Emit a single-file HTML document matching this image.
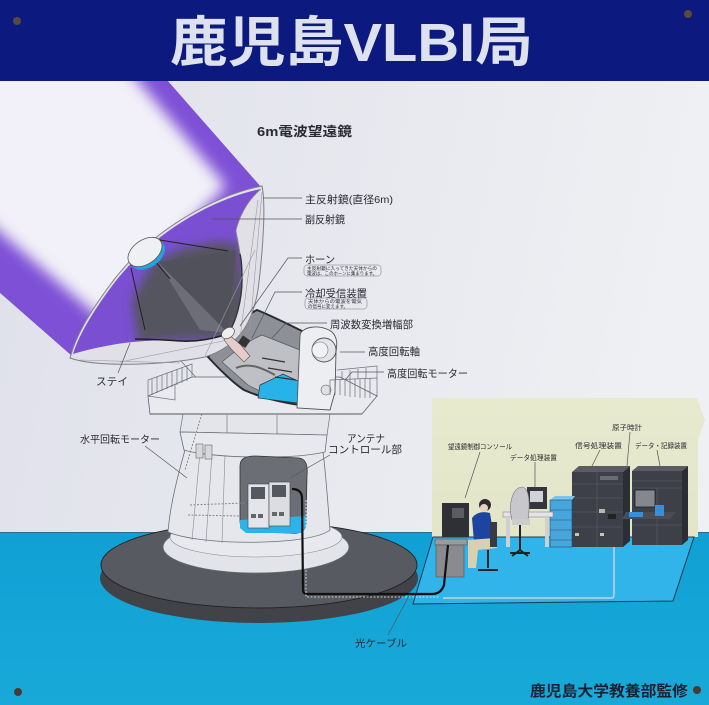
<!DOCTYPE html>
<html><head><meta charset="utf-8">
<style>
html,body{margin:0;padding:0;width:709px;height:705px;overflow:hidden;background:#e8e9f0}
svg{display:block}
text{font-family:"Liberation Sans","Noto Sans CJK JP",sans-serif;fill:#2a2a30}
</style></head><body>
<svg width="709" height="705" viewBox="0 0 709 705" xmlns="http://www.w3.org/2000/svg">
<defs>
 <linearGradient id="bg" x1="0" y1="0" x2="1" y2="0.2">
  <stop offset="0" stop-color="#dfe0ea"/><stop offset="1" stop-color="#eef0f3"/>
 </linearGradient>
 <linearGradient id="gnd" x1="0" y1="0" x2="0" y2="1">
  <stop offset="0" stop-color="#10a0d3"/><stop offset="1" stop-color="#19a9d9"/>
 </linearGradient>
 <filter id="blur" x="-30%" y="-30%" width="160%" height="160%"><feGaussianBlur stdDeviation="7"/></filter>
 <filter id="blur2" x="-30%" y="-30%" width="160%" height="160%"><feGaussianBlur stdDeviation="5"/></filter>
 <clipPath id="beamclip"><polygon points="168,81 262,188 73,357 0,293 0,81"/></clipPath>
 <clipPath id="dishclip"><path d="M261,189 C215,198 152,232 112,286 C92,313 79,335 73,354 C100,346 140,338 180,341 C200,342 215,338 228,334 C236,322 242,300 242,280 C242,255 238,240 236,230 C240,215 248,200 261,189 Z"/></clipPath>
 <linearGradient id="wall" x1="0" y1="0" x2="0" y2="1">
  <stop offset="0" stop-color="#e8eacf"/><stop offset="1" stop-color="#e2e5c8"/>
 </linearGradient>
</defs>

<rect width="709" height="705" fill="url(#bg)"/>

<!-- header -->
<rect x="0" y="0" width="709" height="81" fill="#0c1a80"/>
<text x="170" y="61" font-size="54" font-weight="bold" style="fill:#dde2ee" textLength="363" lengthAdjust="spacingAndGlyphs">鹿児島VLBI局</text>
<circle cx="17" cy="21" r="4" fill="#5a4a3a"/>
<circle cx="688" cy="14" r="4" fill="#5a4a3a"/>

<!-- beam -->
<g clip-path="url(#beamclip)">
 <polygon points="168,81 262,188 73,357 0,293 0,81" fill="#7e50d6"/>
 <polygon points="-40,40 104,40 226,186 100,318 -40,198" fill="#f2f0f8" filter="url(#blur)"/>
</g>

<!-- ground -->
<rect x="0" y="532" width="709" height="173" fill="url(#gnd)"/>
<line x1="0" y1="532.5" x2="709" y2="532.5" stroke="#3a5a70" stroke-width="0.8"/>

<!-- equipment room -->
<polygon points="432,398 697,398 705,420 698,440 698,537 432,537" fill="url(#wall)"/>
<polygon points="433,537 694,537 673,601 413,604" fill="#30b4ea" stroke="#1c3a56" stroke-width="1"/>
<path d="M443,598 L612,598 Q614,598 614,594 L614,545" fill="none" stroke="#c8d4de" stroke-width="1.5"/>

<!-- rack 1 -->
<polygon points="572,472 579,466 630,466 623,472" fill="#5a5c64"/>
<rect x="572" y="472" width="51" height="75" fill="#3d3f49"/>
<polygon points="623,472 630,466 630,541 623,547" fill="#2c2e36"/>
<g stroke="#55575f" stroke-width="0.8">
<line x1="572" y1="484" x2="623" y2="484"/><line x1="572" y1="498" x2="623" y2="498"/>
<line x1="572" y1="512" x2="623" y2="512"/><line x1="572" y1="527" x2="623" y2="527"/>
<line x1="597" y1="472" x2="597" y2="547"/>
</g>
<rect x="600" y="476" width="18" height="4" fill="#6a6c72"/>
<rect x="599" y="509" width="6" height="4" fill="#b8b8a8"/>
<rect x="608" y="514" width="8" height="5" fill="#222"/>
<rect x="575" y="533" width="4" height="3" fill="#c9c6b0"/><rect x="600" y="533" width="4" height="3" fill="#c9c6b0"/>
<!-- rack 2 -->
<polygon points="632,471 638,466 688,466 682,471" fill="#5a5c64"/>
<rect x="632" y="471" width="50" height="74" fill="#3d3f49"/>
<polygon points="682,471 688,466 688,540 682,545" fill="#2c2e36"/>
<g stroke="#55575f" stroke-width="0.8">
<line x1="632" y1="481" x2="682" y2="481"/><line x1="632" y1="488" x2="682" y2="488"/>
<line x1="632" y1="525" x2="682" y2="525"/><line x1="657" y1="488" x2="657" y2="545"/>
</g>
<rect x="635" y="490" width="20" height="17" fill="#85878e" stroke="#222" stroke-width="0.8"/>
<polygon points="626,512 676,512 670,519 622,519" fill="#4a4c56"/>
<rect x="629" y="512" width="14" height="5" fill="#3a8ed6"/>
<rect x="655" y="505" width="9" height="11" fill="#3a8ed6"/>
<!-- blue small rack -->
<polygon points="550,500 555,496 575,496 572,500" fill="#7cc4ec"/>
<rect x="550" y="500" width="22" height="47" fill="#49a6dc" stroke="#1d4e74" stroke-width="0.6"/>
<g stroke="#1d4e74" stroke-width="0.6"><line x1="550" y1="510" x2="572" y2="510"/><line x1="550" y1="520" x2="572" y2="520"/><line x1="550" y1="530" x2="572" y2="530"/><line x1="550" y1="540" x2="572" y2="540"/></g>
<!-- desk 2 -->
<rect x="503" y="512" width="50" height="5" fill="#e4e4e6" stroke="#888" stroke-width="0.6"/>
<rect x="506" y="517" width="4" height="30" fill="#d0d0d2"/><rect x="545" y="517" width="4" height="30" fill="#d0d0d2"/>
<rect x="527" y="487" width="20" height="22" fill="#34363c"/>
<rect x="530" y="491" width="13" height="11" fill="#cfd2d8"/>
<path d="M512,520 C508,505 512,488 522,487 C530,488 530,505 528,520 Z" fill="#c8c8cc" stroke="#777" stroke-width="0.6"/>
<rect x="512" y="519" width="18" height="6" fill="#ccc"/>
<path d="M520,525 L520,550 M510,553 L530,553 M520,550 L512,556 M520,550 L528,556" stroke="#222" stroke-width="2" fill="none"/>
<!-- console desk -->
<rect x="435" y="539" width="32" height="6" fill="#9a9ba0" stroke="#555" stroke-width="0.6"/>
<rect x="436" y="545" width="28" height="32" fill="#8a8b90" stroke="#555" stroke-width="0.6"/>
<rect x="442" y="503" width="27" height="34" fill="#2e3036"/>
<rect x="452" y="508" width="12" height="10" fill="#5a5c62"/>
<!-- person -->
<circle cx="485" cy="505" r="6" fill="#2a2a30"/>
<circle cx="484" cy="508" r="4" fill="#e8d0bc"/>
<path d="M472,518 Q478,510 490,513 L494,538 L474,542 Z" fill="#1d44a0"/>
<path d="M468,540 L495,538 L497,548 L478,550 L476,568 L468,568 Z" fill="#d8d0b0"/>
<rect x="490" y="522" width="7" height="25" fill="#3a3a42"/>
<path d="M488,550 L488,568 M478,570 L498,570" stroke="#222" stroke-width="2"/>

<!-- base disk -->
<ellipse cx="259" cy="578" rx="159" ry="45" fill="#414349"/>
<ellipse cx="259" cy="565" rx="158" ry="43" fill="#575a61" stroke="#222" stroke-width="0.9"/>
<!-- plinth -->
<ellipse cx="256" cy="547" rx="93" ry="26" fill="#e3e4e9" stroke="#6a6a72" stroke-width="0.8"/>
<ellipse cx="256" cy="537" rx="86" ry="20" fill="#e8e9ee" stroke="#8a8a92" stroke-width="0.6"/>
<!-- body -->
<path d="M185,450 C178,475 170,505 168,532 C200,546 310,546 330,530 C328,505 326,475 323,452 Z" fill="#e6e7ec" stroke="#707078" stroke-width="0.8"/>
<g stroke="#8a8a92" stroke-width="0.6" fill="none">
<path d="M200,452 L192,540"/><path d="M212,453 L206,542"/><path d="M225,454 L222,543"/>
</g>
<!-- neck & ring -->
<polygon points="183,414 330,414 327,435 180,432" fill="#e4e5ea" stroke="#707078" stroke-width="0.7"/>
<line x1="227" y1="415" x2="227" y2="437" stroke="#777" stroke-width="0.7"/>
<line x1="277" y1="415" x2="277" y2="437" stroke="#777" stroke-width="0.7"/>
<path d="M180,432 L327,435 L325,452 C290,460 210,458 184,450 Z" fill="#e8e9ee" stroke="#707078" stroke-width="0.8"/>
<rect x="196" y="444" width="7" height="14" fill="#d8d8dc" stroke="#666" stroke-width="0.6"/>
<rect x="205" y="445" width="7" height="14" fill="#d8d8dc" stroke="#666" stroke-width="0.6"/>
<!-- control cutaway -->
<path d="M240,466 C240,458 246,456 256,456 L299,458 C306,459 308,465 307,475 L306,524 C305,532 300,534 290,533 L250,532 C243,531 240,528 240,520 Z" fill="#6c6e76" stroke="#333" stroke-width="0.8"/>
<polygon points="240,520 306,516 306,528 300,533 246,533 240,528" fill="#2cb4ea"/>
<rect x="248" y="484" width="21" height="44" fill="#e4e5ea" stroke="#444" stroke-width="0.6"/>
<rect x="269" y="482" width="21" height="44" fill="#dcdde2" stroke="#444" stroke-width="0.6"/>
<rect x="251" y="487" width="14" height="12" fill="#555860"/>
<rect x="272" y="485" width="14" height="12" fill="#555860"/>
<g fill="#666"><rect x="251" y="514" width="5" height="4"/><rect x="258" y="514" width="5" height="4"/><rect x="272" y="512" width="5" height="4"/><rect x="279" y="512" width="5" height="4"/></g>
<g stroke="#888" stroke-width="1" stroke-dasharray="2,1.5" fill="none">
<path d="M190,505 L245,503"/><path d="M188,515 L240,516"/><path d="M230,320 L185,470"/>
</g>
<!-- cable -->
<path d="M292,489 Q301,489 302,497 L303,590 Q303,594 308,594 L432,594 Q441,594 444,585 L448,545" fill="none" stroke="#111" stroke-width="2.2"/>
<path d="M306,500 L306,597 L440,597" fill="none" stroke="#e8eef2" stroke-width="0.8" stroke-dasharray="2,1.5"/>

<!-- support under cabin -->
<polygon points="180,360 212,356 240,390 298,404 300,414 230,414" fill="#e6e7ec" stroke="#707078" stroke-width="0.7"/>
<!-- deck -->
<polygon points="148,396 192,377 340,377 377,396 362,414 150,414" fill="#e9eaef" stroke="#606068" stroke-width="0.8"/>
<line x1="150" y1="414" x2="362" y2="414" stroke="#555" stroke-width="1"/>
<!-- left railing -->
<g stroke="#707078" stroke-width="0.7" fill="none">
<path d="M148,396 L148,380 L192,364 L192,377"/>
<path d="M152,395 L152,379 M157,393 L157,377 M162,391 L162,375 M167,389 L167,373 M172,387 L172,371 M177,385 L177,369 M182,383 L182,368 M187,381 L187,366"/>
<path d="M148,396 L175,400 L175,384"/>
</g>
<!-- cabin -->
<path d="M208,357 C225,335 240,318 257,310 C272,316 290,325 308,334 L300,405 C280,402 262,398 244,390 C232,382 220,370 208,357 Z" fill="#8e9097" stroke="#2a2a30" stroke-width="2"/>
<path d="M222,362 C236,350 250,340 262,335 L300,350 L298,400 C280,398 262,393 248,385 Z" fill="#bfc0c6" stroke="#555" stroke-width="0.7"/>
<polygon points="260,385 283,374 300,382 297,403 258,398" fill="#27b2ea" stroke="#333" stroke-width="0.7"/>
<g stroke="#333" stroke-width="1.2"><line x1="262" y1="358" x2="285" y2="362"/><line x1="268" y1="368" x2="292" y2="372"/><line x1="275" y1="377" x2="296" y2="380"/></g>
<path d="M236,368 C250,362 262,368 275,375" stroke="#666" stroke-width="2" fill="none"/>
<!-- yoke -->
<path d="M300,336 C300,327 320,323 332,332 C338,338 337,345 336,352 L335,392 L330,410 L297,408 Z" fill="#eceef2" stroke="#555" stroke-width="0.9"/>
<circle cx="324" cy="350" r="12" fill="#e2e3e8" stroke="#555" stroke-width="0.9"/>
<circle cx="320" cy="350" r="8" fill="#f0f1f4" stroke="#777" stroke-width="0.6"/>
<circle cx="326" cy="390" r="5" fill="#e0e0e4" stroke="#666" stroke-width="0.6"/>
<!-- right railing -->
<g stroke="#707078" stroke-width="0.7" fill="none">
<path d="M330,395 L330,380 L377,378 L377,397"/>
<path d="M335,395 L335,380 M340,395 L340,380 M345,396 L345,380 M350,397 L350,379 M355,397 L355,379 M360,398 L360,379 M365,398 L365,378 M370,398 L370,378"/>
<path d="M337,370 L377,366 L377,378"/>
<path d="M342,371 L342,380 M350,370 L350,379 M358,369 L358,379 M366,368 L366,378"/>
</g>

<!-- dish -->
<path d="M262,186 C215,195 150,230 110,285 C90,312 76,335 70,358 C95,367 160,366 205,357 C238,346 252,325 258,290 C263,250 266,205 262,186 Z" fill="#e0e0e6" stroke="#808088" stroke-width="1"/>
<g clip-path="url(#dishclip)">
 <rect x="60" y="180" width="205" height="190" fill="#7a4fd2"/>
 <polygon points="152,264 178,250 215,242 238,244 246,313 230,338 138,342 132,300" fill="#55555e" filter="url(#blur2)"/>
 <polygon points="158,262 228,333 200,330" fill="#7d7d88" opacity="0.6"/>
 <polygon points="158,262 236,250 228,333" fill="#4e4e58" opacity="0.5"/>
</g>
<path d="M135,339 C150,339 165,340 180,341 C200,342 215,338 228,334" fill="none" stroke="#222" stroke-width="1.6"/>
<path d="M228,334 C236,322 242,300 242,280 C242,265 241,258 240,254" fill="none" stroke="#333" stroke-width="1.4"/>
<path d="M240,254 C238,240 236,235 236,230 C240,215 248,200 261,189" fill="none" stroke="#888" stroke-width="0.8"/>
<g stroke="#9a9aa2" stroke-width="0.6" fill="none">
<path d="M262,192 L250,330"/><path d="M258,200 L240,338"/><path d="M255,250 L205,356"/><path d="M80,360 L180,363"/><path d="M120,362 L228,340"/>
</g>
<!-- struts -->
<g stroke="#222" stroke-width="1">
<line x1="160" y1="240" x2="228" y2="251"/><line x1="155" y1="261" x2="170" y2="279"/><line x1="131" y1="268" x2="145" y2="330"/>
</g>
<!-- subreflector -->
<ellipse cx="148" cy="255" rx="19" ry="12" transform="rotate(-35 148 255)" fill="#23a4dc"/>
<ellipse cx="145" cy="252" rx="19" ry="12" transform="rotate(-35 145 252)" fill="#eff0f4" stroke="#555" stroke-width="0.8"/>
<!-- horn -->
<path d="M228,334 L240,344 L250,356 L244,362 L232,350 L224,340 Z" fill="#e6cbc8" stroke="#555" stroke-width="0.6"/>
<rect x="240" y="337" width="9" height="9" fill="#333" transform="rotate(35 244 341)"/>
<ellipse cx="228" cy="333" rx="7" ry="5" transform="rotate(-35 228 333)" fill="#f2eef0" stroke="#555" stroke-width="0.7"/>

<!-- leader lines -->
<g stroke="#555" stroke-width="0.7" fill="none">
<path d="M263,198 L302,198"/>
<path d="M212,219 L302,219"/>
<path d="M302,258 L288,258 L240,326"/>
<path d="M302,292 L275,292 L252,338"/>
<path d="M327,323 L286,323 L272,338"/>
<path d="M340,352 L365,352"/>
<path d="M345,380 L352,372 L384,372"/>
<path d="M118,373 L130,343"/>
<path d="M145,446 L187,478"/>
<path d="M330,455 L290,478"/>
<path d="M480,452 L465,498"/>
<path d="M535,462 L535,487"/>
<path d="M630,432 L627,466"/>
<path d="M600,450 L592,466"/>
<path d="M657,450 L660,466"/>
<path d="M388,635 L410,594"/>
</g>

<!-- labels -->
<text x="257" y="136" font-size="13" font-weight="bold" textLength="95" lengthAdjust="spacingAndGlyphs">6m電波望遠鏡</text>
<text x="305" y="203" font-size="10.5" textLength="88" lengthAdjust="spacingAndGlyphs">主反射鏡(直径6m)</text>
<text x="305" y="223" font-size="10.5" textLength="40" lengthAdjust="spacingAndGlyphs">副反射鏡</text>
<text x="305" y="263" font-size="10.5" textLength="30" lengthAdjust="spacingAndGlyphs">ホーン</text>
<rect x="304" y="265" width="77" height="11" rx="3" fill="none" stroke="#777" stroke-width="0.5"/>
<text x="307" y="270" font-size="4.5" textLength="70" lengthAdjust="spacingAndGlyphs">主反射鏡に入ってきた天体からの</text>
<text x="307" y="275" font-size="4.5" textLength="70" lengthAdjust="spacingAndGlyphs">電波は、このホーンに集まります。</text>
<text x="305" y="297" font-size="10.5" textLength="62" lengthAdjust="spacingAndGlyphs">冷却受信装置</text>
<rect x="305" y="298" width="62" height="11" rx="3" fill="none" stroke="#777" stroke-width="0.5"/>
<text x="308" y="303" font-size="4.5" textLength="54" lengthAdjust="spacingAndGlyphs">天体からの電波を電気</text>
<text x="308" y="308" font-size="4.5" textLength="40" lengthAdjust="spacingAndGlyphs">の信号に変えます。</text>
<text x="330" y="328" font-size="10.5" textLength="83" lengthAdjust="spacingAndGlyphs">周波数変換増幅部</text>
<text x="368" y="355" font-size="10.5" textLength="52" lengthAdjust="spacingAndGlyphs">高度回転軸</text>
<text x="387" y="377" font-size="10.5" textLength="81" lengthAdjust="spacingAndGlyphs">高度回転モーター</text>
<text x="96" y="385" font-size="10.5" textLength="32" lengthAdjust="spacingAndGlyphs">ステイ</text>
<text x="80" y="443" font-size="10" textLength="80" lengthAdjust="spacingAndGlyphs">水平回転モーター</text>
<text x="347" y="442" font-size="10.5" textLength="38" lengthAdjust="spacingAndGlyphs">アンテナ</text>
<text x="328" y="453" font-size="10.5" textLength="74" lengthAdjust="spacingAndGlyphs">コントロール部</text>
<text x="448" y="449" font-size="7" textLength="64" lengthAdjust="spacingAndGlyphs">望遠鏡制御コンソール</text>
<text x="510" y="460" font-size="7" textLength="47" lengthAdjust="spacingAndGlyphs">データ処理装置</text>
<text x="612" y="430" font-size="7" textLength="30" lengthAdjust="spacingAndGlyphs">原子時計</text>
<text x="575" y="448" font-size="7" textLength="47" lengthAdjust="spacingAndGlyphs">信号処理装置</text>
<text x="635" y="448" font-size="7" textLength="52" lengthAdjust="spacingAndGlyphs">データ・記録装置</text>
<text x="355" y="647" font-size="10" textLength="52" lengthAdjust="spacingAndGlyphs">光ケーブル</text>
<text x="530" y="696" font-size="15" font-weight="bold" style="fill:#1a2030" textLength="158" lengthAdjust="spacingAndGlyphs">鹿児島大学教養部監修</text>

<!-- screws -->
<circle cx="18" cy="692" r="4" fill="#4a3a30"/>
<circle cx="697" cy="690" r="4" fill="#4a3a30"/>
</svg>
</body></html>
